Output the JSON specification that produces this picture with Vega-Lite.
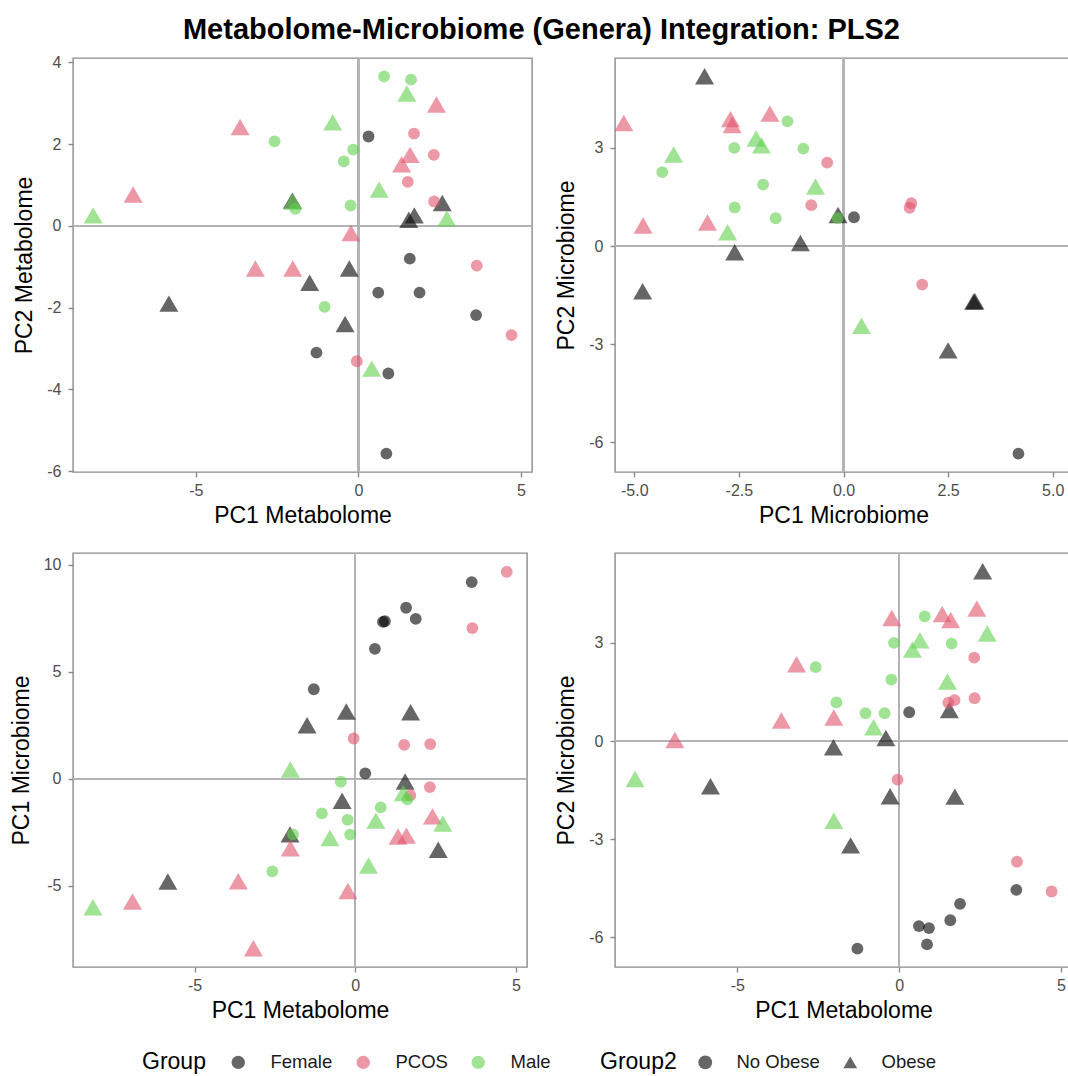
{
  "$schema": "https://vega.github.io/schema/vega-lite/v6.json",
  "title": {"text": "Metabolome-Microbiome (Genera) Integration: PLS2", "fontSize": 29, "font": "Liberation Sans", "fontWeight": "bold", "anchor": "middle", "color": "#000000", "offset": 9},
  "padding": {"left": 9, "top": 15, "right": 0, "bottom": 0},
  "datasets": {
    "pls": [
      {"Group": "Female", "Group2": "No Obese", "met1": 0.31, "met2": 2.19, "mic1": 0.25, "mic2": 0.88},
      {"Group": "Female", "Group2": "No Obese", "met1": 3.62, "met2": -2.18, "mic1": 9.19, "mic2": -4.55},
      {"Group": "Female", "Group2": "No Obese", "met1": 1.88, "met2": -1.63, "mic1": 7.47, "mic2": -4.98},
      {"Group": "Female", "Group2": "No Obese", "met1": 1.58, "met2": -0.80, "mic1": 7.99, "mic2": -5.48},
      {"Group": "Female", "Group2": "No Obese", "met1": 0.61, "met2": -1.63, "mic1": 6.07, "mic2": -5.66},
      {"Group": "Female", "Group2": "No Obese", "met1": 0.92, "met2": -3.61, "mic1": 7.36, "mic2": -5.72},
      {"Group": "Female", "Group2": "No Obese", "met1": 0.86, "met2": -5.57, "mic1": 7.33, "mic2": -6.22},
      {"Group": "Female", "Group2": "No Obese", "met1": -1.29, "met2": -3.10, "mic1": 4.18, "mic2": -6.35},
      {"Group": "Female", "Group2": "Obese", "met1": -2.03, "met2": 0.62, "mic1": -2.60, "mic2": -0.19},
      {"Group": "Female", "Group2": "Obese", "met1": 2.58, "met2": 0.56, "mic1": -3.32, "mic2": 5.19},
      {"Group": "Female", "Group2": "Obese", "met1": 1.55, "met2": 0.15, "mic1": -0.13, "mic2": 0.95},
      {"Group": "Female", "Group2": "Obese", "met1": 1.72, "met2": 0.26, "mic1": 3.11, "mic2": -1.70},
      {"Group": "Female", "Group2": "Obese", "met1": -0.28, "met2": -1.04, "mic1": 3.14, "mic2": -1.69},
      {"Group": "Female", "Group2": "Obese", "met1": -1.50, "met2": -1.39, "mic1": 2.50, "mic2": -3.19},
      {"Group": "Female", "Group2": "Obese", "met1": -5.83, "met2": -1.90, "mic1": -4.80, "mic2": -1.38},
      {"Group": "Female", "Group2": "Obese", "met1": -0.41, "met2": -2.40, "mic1": -1.03, "mic2": 0.09},
      {"Group": "PCOS", "Group2": "No Obese", "met1": 4.71, "met2": -2.67, "mic1": 9.67, "mic2": -4.60},
      {"Group": "PCOS", "Group2": "No Obese", "met1": 3.64, "met2": -0.97, "mic1": 7.04, "mic2": -3.69},
      {"Group": "PCOS", "Group2": "No Obese", "met1": -0.05, "met2": -3.31, "mic1": 1.88, "mic2": -1.18},
      {"Group": "PCOS", "Group2": "No Obese", "met1": 1.52, "met2": 1.08, "mic1": 1.58, "mic2": 1.17},
      {"Group": "PCOS", "Group2": "No Obese", "met1": 1.71, "met2": 2.26, "mic1": -0.77, "mic2": 1.25},
      {"Group": "PCOS", "Group2": "No Obese", "met1": 2.32, "met2": 1.74, "mic1": -0.39, "mic2": 2.55},
      {"Group": "PCOS", "Group2": "No Obese", "met1": 2.33, "met2": 0.60, "mic1": 1.62, "mic2": 1.31},
      {"Group": "PCOS", "Group2": "Obese", "met1": 2.40, "met2": 2.97, "mic1": -1.76, "mic2": 4.05},
      {"Group": "PCOS", "Group2": "Obese", "met1": -3.64, "met2": 2.42, "mic1": -4.79, "mic2": 0.63},
      {"Group": "PCOS", "Group2": "Obese", "met1": 1.59, "met2": 1.74, "mic1": -2.66, "mic2": 3.70},
      {"Group": "PCOS", "Group2": "Obese", "met1": 1.33, "met2": 1.51, "mic1": -2.70, "mic2": 3.88},
      {"Group": "PCOS", "Group2": "Obese", "met1": -6.93, "met2": 0.77, "mic1": -5.74, "mic2": 0.03},
      {"Group": "PCOS", "Group2": "Obese", "met1": -0.23, "met2": -0.17, "mic1": -5.25, "mic2": 3.76},
      {"Group": "PCOS", "Group2": "Obese", "met1": -3.17, "met2": -1.04, "mic1": -7.92, "mic2": 2.35},
      {"Group": "PCOS", "Group2": "Obese", "met1": -2.02, "met2": -1.04, "mic1": -3.25, "mic2": 0.72},
      {"Group": "Male", "Group2": "No Obese", "met1": 0.79, "met2": 3.66, "mic1": -1.34, "mic2": 3.81},
      {"Group": "Male", "Group2": "No Obese", "met1": 1.62, "met2": 3.58, "mic1": -0.96, "mic2": 2.98},
      {"Group": "Male", "Group2": "No Obese", "met1": -2.58, "met2": 2.07, "mic1": -4.33, "mic2": 2.26},
      {"Group": "Male", "Group2": "No Obese", "met1": -0.16, "met2": 1.87, "mic1": -2.61, "mic2": 3.00},
      {"Group": "Male", "Group2": "No Obese", "met1": -0.45, "met2": 1.58, "mic1": -0.14, "mic2": 0.85},
      {"Group": "Male", "Group2": "No Obese", "met1": -1.94, "met2": 0.42, "mic1": -2.60, "mic2": 1.18},
      {"Group": "Male", "Group2": "No Obese", "met1": -0.24, "met2": 0.50, "mic1": -1.92, "mic2": 1.88},
      {"Group": "Male", "Group2": "No Obese", "met1": -1.04, "met2": -1.98, "mic1": -1.62, "mic2": 0.85},
      {"Group": "Male", "Group2": "Obese", "met1": 1.49, "met2": 3.24, "mic1": -0.67, "mic2": 1.82},
      {"Group": "Male", "Group2": "Obese", "met1": -0.79, "met2": 2.54, "mic1": -2.77, "mic2": 0.42},
      {"Group": "Male", "Group2": "Obese", "met1": 0.64, "met2": 0.89, "mic1": -1.96, "mic2": 3.08},
      {"Group": "Male", "Group2": "Obese", "met1": -2.02, "met2": 0.60, "mic1": 0.43, "mic2": -2.44},
      {"Group": "Male", "Group2": "Obese", "met1": -8.16, "met2": 0.26, "mic1": -6.01, "mic2": -1.16},
      {"Group": "Male", "Group2": "Obese", "met1": 2.72, "met2": 0.18, "mic1": -2.09, "mic2": 3.29},
      {"Group": "Male", "Group2": "Obese", "met1": 0.41, "met2": -3.49, "mic1": -4.06, "mic2": 2.80}
    ]
  },
  "data": {"name": "pls"},
  "columns": 2,
  "align": "none",
  "spacing": {"row": 23, "column": 21},
  "concat": [
    {
      "width": 459, "height": 414,
      "layer": [
        {"mark": {"type": "rule", "color": "#b3b3b3", "strokeWidth": 1.4}, "encoding": {"x": {"datum": 0, "type": "quantitative", "scale": {"domain": [-8.78, 5.34], "nice": false, "zero": false}}}},
        {"mark": {"type": "rule", "color": "#b3b3b3", "strokeWidth": 1.4}, "encoding": {"y": {"datum": 0, "type": "quantitative", "scale": {"domain": [-6.02, 4.11], "nice": false, "zero": false}}}},
        {
          "mark": {"type": "point", "filled": true, "opacity": 0.6, "strokeWidth": 0},
          "encoding": {
            "x": {"field": "met1", "type": "quantitative", "title": "PC1 Metabolome", "scale": {"domain": [-8.78, 5.34], "nice": false, "zero": false}, "axis": {"values": [-5, 0, 5]}},
            "y": {"field": "met2", "type": "quantitative", "title": "PC2 Metabolome", "scale": {"domain": [-6.02, 4.11], "nice": false, "zero": false}, "axis": {"values": [-6, -4, -2, 0, 2, 4]}},
            "color": {"field": "Group", "type": "nominal", "scale": {"domain": ["Female", "PCOS", "Male"], "range": ["#000000", "#DF536B", "#61D04F"]},
              "legend": {"orient": "none", "legendX": 69, "legendY": 995, "direction": "horizontal", "title": "Group", "titleOrient": "left", "symbolType": "circle", "symbolSize": 180, "symbolOpacity": 0.6, "labelFontSize": 18.5, "titleFontSize": 23, "titleFontWeight": "normal", "columnPadding": 21, "labelOffset": 23, "titlePadding": 23, "titleColor": "#000000", "labelColor": "#1a1a1a"}},
            "shape": {"field": "Group2", "type": "nominal", "scale": {"domain": ["No Obese", "Obese"], "range": ["circle", "triangle-up"]},
              "legend": {"orient": "none", "legendX": 527, "legendY": 995, "direction": "horizontal", "title": "Group2", "titleOrient": "left", "symbolSize": 190, "symbolFillColor": "#666666", "symbolStrokeWidth": 0, "symbolOpacity": 1, "labelFontSize": 18.5, "titleFontSize": 23, "titleFontWeight": "normal", "columnPadding": 21, "labelOffset": 22, "titlePadding": 19, "titleColor": "#000000", "labelColor": "#1a1a1a",
                "encode": {"symbols": {"update": {"fill": {"value": "#666666"}, "opacity": {"value": 1}, "fillOpacity": {"value": 1}, "strokeWidth": {"value": 0}}}}}},
            "size": {"condition": {"test": "datum.Group2 === 'Obese'", "value": 360}, "value": 140}
          }
        }
      ]
    },
    {
      "width": 457, "height": 414,
      "transform": [{"filter": {"field": "mic1", "range": [-5.46, 5.46]}}],
      "layer": [
        {"mark": {"type": "rule", "color": "#b3b3b3", "strokeWidth": 1.4}, "encoding": {"x": {"datum": 0, "type": "quantitative", "scale": {"domain": [-5.46, 5.46], "nice": false, "zero": false}}}},
        {"mark": {"type": "rule", "color": "#b3b3b3", "strokeWidth": 1.4}, "encoding": {"y": {"datum": 0, "type": "quantitative", "scale": {"domain": [-6.91, 5.75], "nice": false, "zero": false}}}},
        {
          "mark": {"type": "point", "filled": true, "opacity": 0.6, "strokeWidth": 0},
          "encoding": {
            "x": {"field": "mic1", "type": "quantitative", "title": "PC1 Microbiome", "scale": {"domain": [-5.46, 5.46], "nice": false, "zero": false}, "axis": {"values": [-5, -2.5, 0, 2.5, 5], "format": ".1f"}},
            "y": {"field": "mic2", "type": "quantitative", "title": "PC2 Microbiome", "scale": {"domain": [-6.91, 5.75], "nice": false, "zero": false}, "axis": {"values": [-6, -3, 0, 3]}},
            "color": {"field": "Group", "type": "nominal"},
            "shape": {"field": "Group2", "type": "nominal"},
            "size": {"condition": {"test": "datum.Group2 === 'Obese'", "value": 360}, "value": 140}
          }
        }
      ]
    },
    {
      "width": 454, "height": 414,
      "layer": [
        {"mark": {"type": "rule", "color": "#b3b3b3", "strokeWidth": 1.4}, "encoding": {"x": {"datum": 0, "type": "quantitative", "scale": {"domain": [-8.78, 5.34], "nice": false, "zero": false}}}},
        {"mark": {"type": "rule", "color": "#b3b3b3", "strokeWidth": 1.4}, "encoding": {"y": {"datum": 0, "type": "quantitative", "scale": {"domain": [-8.8, 10.55], "nice": false, "zero": false}}}},
        {
          "mark": {"type": "point", "filled": true, "opacity": 0.6, "strokeWidth": 0},
          "encoding": {
            "x": {"field": "met1", "type": "quantitative", "title": "PC1 Metabolome", "scale": {"domain": [-8.78, 5.34], "nice": false, "zero": false}, "axis": {"values": [-5, 0, 5]}},
            "y": {"field": "mic1", "type": "quantitative", "title": "PC1 Microbiome", "scale": {"domain": [-8.8, 10.55], "nice": false, "zero": false}, "axis": {"values": [-5, 0, 5, 10]}},
            "color": {"field": "Group", "type": "nominal"},
            "shape": {"field": "Group2", "type": "nominal"},
            "size": {"condition": {"test": "datum.Group2 === 'Obese'", "value": 360}, "value": 140}
          }
        }
      ]
    },
    {
      "width": 457, "height": 414,
      "layer": [
        {"mark": {"type": "rule", "color": "#b3b3b3", "strokeWidth": 1.4}, "encoding": {"x": {"datum": 0, "type": "quantitative", "scale": {"domain": [-8.78, 5.34], "nice": false, "zero": false}}}},
        {"mark": {"type": "rule", "color": "#b3b3b3", "strokeWidth": 1.4}, "encoding": {"y": {"datum": 0, "type": "quantitative", "scale": {"domain": [-6.91, 5.75], "nice": false, "zero": false}}}},
        {
          "mark": {"type": "point", "filled": true, "opacity": 0.6, "strokeWidth": 0},
          "encoding": {
            "x": {"field": "met1", "type": "quantitative", "title": "PC1 Metabolome", "scale": {"domain": [-8.78, 5.34], "nice": false, "zero": false}, "axis": {"values": [-5, 0, 5]}},
            "y": {"field": "mic2", "type": "quantitative", "title": "PC2 Microbiome", "scale": {"domain": [-6.91, 5.75], "nice": false, "zero": false}, "axis": {"values": [-6, -3, 0, 3]}},
            "color": {"field": "Group", "type": "nominal"},
            "shape": {"field": "Group2", "type": "nominal"},
            "size": {"condition": {"test": "datum.Group2 === 'Obese'", "value": 360}, "value": 140}
          }
        }
      ]
    }
  ],
  "config": {
    "font": "Liberation Sans",
    "background": "#ffffff",
    "locale": {"number": {"decimal": ".", "thousands": ",", "grouping": [3], "currency": ["$", ""], "minus": "-"}},
    "view": {"stroke": "#8a8a8a", "strokeWidth": 1.4},
    "axis": {"domain": false, "grid": false, "ticks": true, "tickColor": "#8a8a8a", "tickSize": 5, "tickWidth": 1.4, "labelFont": "Liberation Sans", "labelFontSize": 16, "labelColor": "#4d4d4d", "labelFlush": false, "labelOverlap": false, "titleFont": "Liberation Sans", "titleFontSize": 23, "titleFontWeight": "normal", "titleColor": "#000000"},
    "axisX": {"labelPadding": 5, "titlePadding": 6},
    "axisY": {"labelPadding": 7, "titlePadding": 10},
    "legend": {"labelFont": "Liberation Sans", "titleFont": "Liberation Sans"}
  }
}
